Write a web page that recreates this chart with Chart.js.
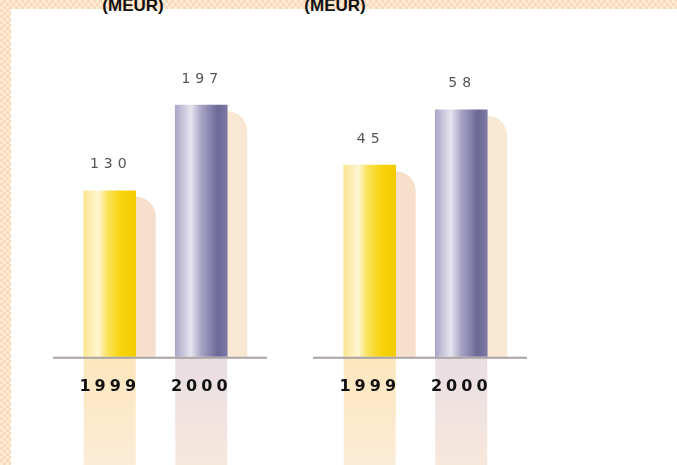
<!DOCTYPE html>
<html>
<head>
<meta charset="utf-8">
<script src="https://cdn.jsdelivr.net/npm/chart.js@4/dist/chart.umd.min.js"></script>
<style>
  body {
    margin: 0;
    width: 677px;
    height: 465px;
    overflow: hidden;
    position: relative;
    background-color: #fce4c8;
    background-image: repeating-conic-gradient(#fad8c0 0 25%, #fdeed2 0 50%);
    background-size: 6px 6px;
  }
  #panneau { position: absolute; left: 11px; top: 9px; right: 0; bottom: 0; background: #fff; }
  .titre {
    position: absolute; top: -4px; line-height: 17px;
    font: bold 17px "Liberation Sans", Arial, sans-serif; color: #111;
    transform: translateX(-50%); white-space: nowrap;
  }
  canvas { position: absolute; top: 0; }
</style>
</head>
<body>
<div id="panneau"></div>
<div class="titre" id="titre1" style="left:133px"></div>
<div class="titre" id="titre2" style="left:335px"></div>
<canvas id="graphGauche" width="290" height="465" style="left:0px"></canvas>
<canvas id="graphDroite" width="290" height="465" style="left:260px"></canvas>
<script>
// Données
const annees = ['1999', '2000'];
const valeursGauche = [130, 197];
const valeursDroite = [45, 58];
const titres = ['(MEUR)', '(MEUR)'];

// echelle de chaque graphique (haut de l'axe y)
const maxGauche = 248;
const maxDroite = 74.4;

document.getElementById('titre1').textContent = titres[0];
document.getElementById('titre2').textContent = titres[1];

const LARGEUR_BARRE = 52;

// couleurs : jaune pour 1999, violet pour 2000
const degrades = [
  [[0, '#fbe592'], [0.28, '#fff6d2'], [0.45, '#fbe25e'], [0.7, '#f8d510'], [1, '#f2cb00']],
  [[0, '#aaa6c6'], [0.3, '#e8e5f0'], [0.5, '#a7a3c4'], [0.82, '#6c6896'], [1, '#7e7aa4']]
];
const ombres = ['#f6e0cc', '#f8e7d2'];
const reflets = [['#fce6bc', '#fcecd8'], ['#e9dde4', '#f7e8dc']];

function couleurBarre(context) {
  const chart = context.chart;
  const x = chart.scales.x;
  const stops = degrades[context.dataIndex % 2];
  if (!x || !x.width) return stops[3][1];
  const cx = x.getPixelForValue(context.dataIndex);
  const g = chart.ctx.createLinearGradient(cx - LARGEUR_BARRE / 2, 0, cx + LARGEUR_BARRE / 2, 0);
  stops.forEach(s => g.addColorStop(s[0], s[1]));
  return g;
}

// Ombres à droite des barres + reflets sous la ligne de base
const pluginOmbres = {
  id: 'ombres',
  beforeDraw(chart) {
    const ctx = chart.ctx;
    const base = chart.chartArea.bottom;
    const meta = chart.getDatasetMeta(0);
    ctx.save();
    ctx.letterSpacing = '0px';
    meta.data.forEach((el, i) => {
      const gauche = el.x - el.width / 2;
      const droite = el.x + el.width / 2;
      // ombre
      const haut = el.y + 6, w = 20, r = 20;
      ctx.fillStyle = ombres[i % 2];
      ctx.beginPath();
      ctx.moveTo(droite, haut);
      ctx.arcTo(droite + w, haut, droite + w, haut + r, r);
      ctx.lineTo(droite + w, base);
      ctx.lineTo(droite, base);
      ctx.closePath();
      ctx.fill();
      // reflet
      const g = ctx.createLinearGradient(0, base, 0, chart.height);
      g.addColorStop(0, reflets[i % 2][0]);
      g.addColorStop(1, reflets[i % 2][1]);
      ctx.fillStyle = g;
      ctx.fillRect(gauche, base, el.width, chart.height - base);
    });
    ctx.restore();
    // espacement des lettres pour les années
    ctx.letterSpacing = '4px';
  },
  afterDatasetsDraw(chart) {
    const ctx = chart.ctx;
    const zone = chart.chartArea;
    ctx.save();
    // ligne de base
    ctx.strokeStyle = '#aaa2a2';
    ctx.lineWidth = 2;
    ctx.beginPath();
    ctx.moveTo(zone.left - 11, zone.bottom + 1);
    ctx.lineTo(zone.right + 20, zone.bottom + 1);
    ctx.stroke();
    // valeurs au-dessus des barres
    ctx.font = '14px "DejaVu Sans"';
    ctx.fillStyle = '#555';
    ctx.letterSpacing = '5px';
    ctx.textAlign = 'center';
    ctx.textBaseline = 'middle';
    const meta = chart.getDatasetMeta(0);
    meta.data.forEach((el, i) => {
      ctx.fillText(String(chart.data.datasets[0].data[i]), el.x + 1, el.y - 26);
    });
    ctx.restore();
  }
};

function creerGraphique(id, valeurs, max) {
  return new Chart(document.getElementById(id).getContext('2d'), {
    type: 'bar',
    data: {
      labels: annees,
      datasets: [{
        data: valeurs,
        backgroundColor: couleurBarre,
        borderWidth: 0,
        barThickness: LARGEUR_BARRE
      }]
    },
    options: {
      responsive: false,
      animation: false,
      layout: { padding: { left: 64, right: 43, top: 40, bottom: 57 } },
      plugins: { legend: { display: false }, tooltip: { enabled: false } },
      scales: {
        x: {
          grid: { display: false },
          border: { display: false },
          ticks: {
            color: '#111',
            maxRotation: 0,
            padding: 12,
            font: { family: 'DejaVu Sans', size: 16, weight: 'bold' }
          }
        },
        y: { display: false, min: 0, max: max }
      }
    },
    plugins: [pluginOmbres]
  });
}

creerGraphique('graphGauche', valeursGauche, maxGauche);
creerGraphique('graphDroite', valeursDroite, maxDroite);
</script>
</body>
</html>
